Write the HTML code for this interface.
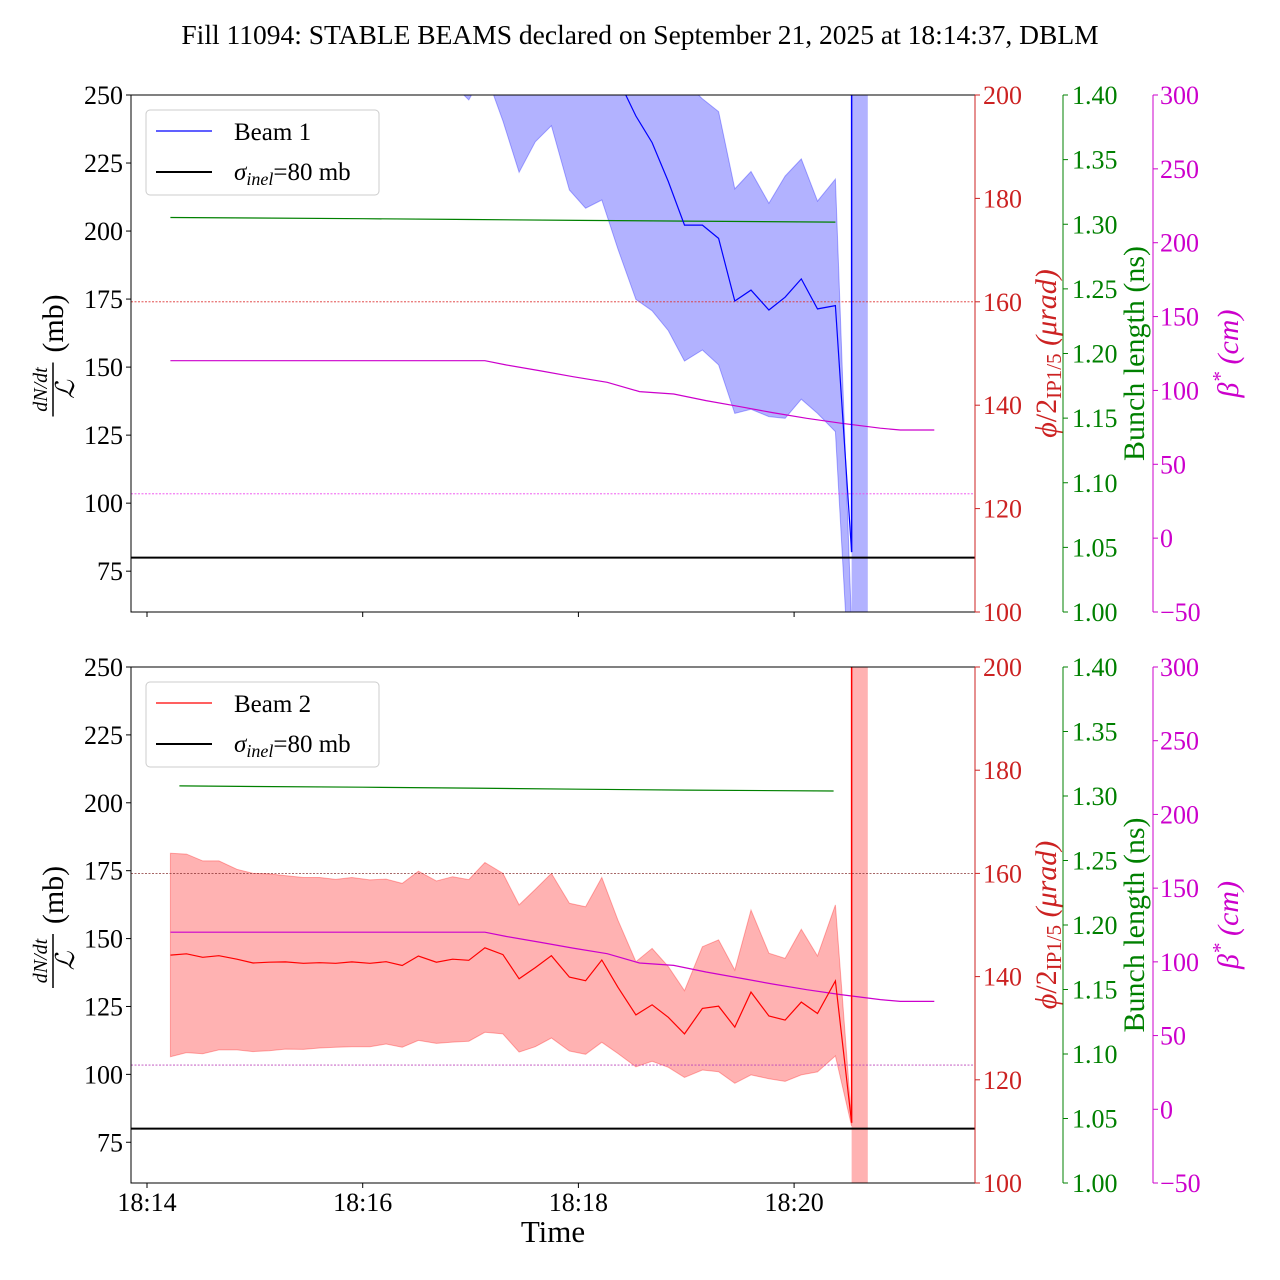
<!DOCTYPE html>
<html><head><meta charset="utf-8"><style>
html,body{margin:0;padding:0;background:#fff}
svg{display:block;font-family:"Liberation Serif",serif}
</style></head><body>
<svg id="chart" width="1280" height="1280" viewBox="0 0 1280 1280" xmlns="http://www.w3.org/2000/svg">
<defs>
<clipPath id="clipTop"><rect x="131" y="95" width="844" height="517"/></clipPath>
<clipPath id="clipBot"><rect x="131" y="667" width="844" height="516"/></clipPath>
</defs>
<text x="640" y="44" font-size="27.5" text-anchor="middle">Fill 11094: STABLE BEAMS declared on September 21, 2025 at 18:14:37, DBLM</text>
<g id="top"></g>
<g id="bot"></g>
<text x="553" y="1242" font-size="31" text-anchor="middle">Time</text>
</svg>
<script>
// time (seconds after 18:14:00) of each sample
const times = [13,22,31,40,50,59,68,77,87,96,105,114,124,133,142,151,161,170,179,188,198,207,216,225,235,244,253,262,272,281,290,299,309,318,327,336,346,355,364,373,383,392];
// Beam 1
const meanB1 = [310,312,309,311,308,307,309,306,305,306,304,303,302,300,298,299,296,292,288,284,280,276,272,268,265,262,258,256,242.3,232.5,218.2,202.2,202.2,197.3,174.3,178.3,171.0,175.7,182.4,171.4,172.6,82];
const upperB1 = [340,338,336,337,335,334,333,332,331,330,328,326,325,323,321,320,318,316,314,311,308,305,302,299,296,292,288,284,278,272,265,255,248.6,243.9,215.5,221.9,210.2,220.2,226.5,211.0,219.1,55];
const lowerB1 = [275,276,274,275,273,272,273,271,270,271,269,268,267,265,263,262,258,254,248.2,258.8,240.5,221.6,232.8,238.7,215.1,208.4,211.4,193.4,174.9,170.7,163.4,152.2,156.3,150.8,133.0,134.5,131.8,131.2,138.2,133.0,126.3,20];
// Beam 2
const meanB2 = [143.9,144.4,143.1,143.7,142.4,141.0,141.3,141.4,140.9,141.1,140.9,141.4,140.9,141.5,140.1,143.6,141.3,142.4,142.0,146.6,144.1,135.2,139.3,143.7,135.8,134.5,142.1,132.1,121.9,125.6,121.0,114.9,124.3,125.1,117.4,130.3,121.5,120.0,126.6,122.4,134.4,82.2];
const upperB2 = [181.4,181.1,178.6,178.6,175.5,174.0,173.8,173.2,172.5,172.5,171.8,172.5,171.6,171.9,170.3,174.8,171.2,172.8,171.7,178.0,174.0,162.4,168.1,174.0,163.0,161.7,172.5,156.8,141.5,146.4,139.7,130.8,147.0,149.5,138.4,160.5,144.6,142.7,153.4,143.6,162.4,83];
const lowerB2 = [106.5,108.0,107.6,109.0,109.0,108.4,108.7,109.3,109.2,109.7,110.0,110.2,110.2,111.2,110.0,112.5,111.4,111.9,112.2,115.5,114.9,108.2,110.2,113.4,108.6,107.4,111.8,107.7,102.8,104.8,102.6,98.9,101.6,101.0,96.7,99.8,98.4,97.4,99.8,100.9,106.8,81];
// dump spike / shaded span (seconds)
const spikeT = 392;
const spanT = [392, 401];
// bunch length (ns)
const blTimesTop = [13,60,120,180,240,300,383];
const blTop = [1.3052,1.3048,1.3043,1.3037,1.3030,1.3024,1.3017];
const blTimesBot = [18,60,120,180,240,300,382];
const blBot = [1.3078,1.3074,1.3068,1.3061,1.3053,1.3046,1.3039];
// beta* (cm)
const betaTimes = [13,188,200,219,237,256,274,293,311,330,348,367,386,408,419,438];
const betaVals = [120.1,120.1,117.2,113.2,109.3,105.5,99.2,97.6,93.1,89.0,85.0,81.1,77.8,74.4,73.2,73.2];
// reference lines
const sigmaInel = 80;
const crossingRef = 160;
const betaRef = 30;
// ticks
const xTickTimes = [0,120,240,360];
const xTickLabels = ["18:14","18:16","18:18","18:20"];
const leftTicks = [75,100,125,150,175,200,225,250];
const redTicks = [100,120,140,160,180,200];
const greenTicks = [1.00,1.05,1.10,1.15,1.20,1.25,1.30,1.35,1.40];
const betaTicks = [-50,0,50,100,150,200,250,300];

const NS = "http://www.w3.org/2000/svg";
function mk(parent, tag, attrs, text){
  const e = document.createElementNS(NS, tag);
  for (const k in attrs) e.setAttribute(k, attrs[k]);
  if (text !== undefined) e.textContent = text;
  parent.appendChild(e);
  return e;
}
const xs = t => 147 + t * 1.7975;
const L = 131, R = 975;
const FS = 26;

function panel(g, y0, y1, clipId, beam, color, fill, mean, upper, lower, blT, blV, refColorRed, refColorMag, showXLabels){
  const H = y1 - y0;
  const yL = v => y1 - (v - 60) / 190 * H;
  const yR = v => y1 - (v - 100) / 100 * H;
  const yG = v => y1 - (v - 1.0) / 0.4 * H;
  const yB = v => y1 - (v + 50) / 350 * H;
  const data = mk(g, "g", {"clip-path": "url(#" + clipId + ")"});
  
  
  let d = "";
  times.forEach((t,i)=>{ d += (i?"L":"M") + xs(t).toFixed(1) + "," + yL(upper[i]).toFixed(1); });
  for (let i = times.length-1; i>=0; i--) d += "L" + xs(times[i]).toFixed(1) + "," + yL(lower[i]).toFixed(1);
  const band = mk(data, "path", {d: d + "Z", fill: fill, "fill-opacity": 0.3, stroke: fill, "stroke-opacity": 0.3, "stroke-width": 1});
  
  
  const span = mk(data, "rect", {x: xs(spanT[0]), y: y0, width: xs(spanT[1]) - xs(spanT[0]), height: H, fill: fill, "fill-opacity": 0.3});
  
  
  const rl = mk(data, "line", {x1: L, x2: R, y1: yR(crossingRef), y2: yR(crossingRef), stroke: refColorRed, "stroke-width": 0.8, "stroke-dasharray": "2,1.5"});
  
  
  const ml = mk(data, "line", {x1: L, x2: R, y1: yB(betaRef), y2: yB(betaRef), stroke: refColorMag, "stroke-width": 0.8, "stroke-dasharray": "2,1.5"});
  
  
  const gl = mk(data, "polyline", {points: blT.map((t,i)=>xs(t).toFixed(1)+","+yG(blV[i]).toFixed(1)).join(" "), fill: "none", stroke: "green", "stroke-width": 1.2});
  
  
  const bl = mk(data, "polyline", {points: betaTimes.map((t,i)=>xs(t).toFixed(1)+","+yB(betaVals[i]).toFixed(1)).join(" "), fill: "none", stroke: "#cc00cc", "stroke-width": 1.2});
  
  
  const ml2 = mk(data, "polyline", {points: times.map((t,i)=>xs(t).toFixed(1)+","+yL(mean[i]).toFixed(1)).join(" "), fill: "none", stroke: color, "stroke-width": 1.2});
  
  
  const sp = mk(data, "line", {x1: xs(spikeT), x2: xs(spikeT), y1: yL(mean[mean.length-1]), y2: y0, stroke: color, "stroke-width": 1.5});
  
  
  const sl = mk(data, "line", {x1: L, x2: R, y1: yL(sigmaInel), y2: yL(sigmaInel), stroke: "#000", "stroke-width": 2});
  
  
  const fr = mk(g, "rect", {x: L, y: y0, width: R-L, height: H, fill: "none", stroke: "#000", "stroke-width": 1});
  
  
  mk(g, "line", {x1: R, x2: R, y1: y0, y2: y1, stroke: "#cc2222", "stroke-width": 1});
  mk(g, "line", {x1: 1063, x2: 1063, y1: y0, y2: y1, stroke: "green", "stroke-width": 1});
  mk(g, "line", {x1: 1153, x2: 1153, y1: y0, y2: y1, stroke: "#cc00cc", "stroke-width": 1});
  leftTicks.forEach(v=>{
    const y = yL(v);
    mk(g, "line", {x1: L-5, x2: L, y1: y, y2: y, stroke: "#000"});
    const t = mk(g, "text", {x: L-8, y: y+9, "font-size": FS, "text-anchor": "end"}, v);
    
    
  });
  redTicks.forEach(v=>{
    const y = yR(v);
    mk(g, "line", {x1: R, x2: R+5, y1: y, y2: y, stroke: "#cc2222"});
    const t = mk(g, "text", {x: R+8, y: y+9, "font-size": FS, fill: "#cc2222"}, v);
    
    
  });
  greenTicks.forEach(v=>{
    const y = yG(v);
    mk(g, "line", {x1: 1063, x2: 1068, y1: y, y2: y, stroke: "green"});
    const t = mk(g, "text", {x: 1072, y: y+9, "font-size": FS, fill: "green"}, v.toFixed(2));
    
    
  });
  betaTicks.forEach(v=>{
    const y = yB(v);
    mk(g, "line", {x1: 1153, x2: 1158, y1: y, y2: y, stroke: "#cc00cc"});
    const t = mk(g, "text", {x: 1160, y: y+9, "font-size": FS, fill: "#cc00cc"}, v < 0 ? "\u2212" + (-v) : v);
    
    
  });
  xTickTimes.forEach((tt,i)=>{
    const x = xs(tt);
    mk(g, "line", {x1: x, x2: x, y1: y1, y2: y1+5, stroke: "#000"});
    if (showXLabels){
      const t = mk(g, "text", {x: x, y: y1+28, "font-size": FS, "text-anchor": "middle"}, xTickLabels[i]);
      
      
    }
  });
  const mid = (y0 + y1) / 2;
  const cy = mid + 36;
  const ll = mk(g, "g", {transform: "translate(53," + cy + ") rotate(-90)"});
  
  
  mk(ll, "text", {x: 0, y: -6, "font-size": 20, "font-style": "italic", "text-anchor": "middle"}, "dN/dt");
  mk(ll, "line", {x1: -27, x2: 27, y1: 0, y2: 0, stroke: "#000", "stroke-width": 1.5});
  mk(ll, "text", {x: 0, y: 21, "font-size": 26, "font-style": "italic", "text-anchor": "middle"}, "\u2112");
  mk(ll, "text", {x: 66, y: 10, "font-size": 30, "text-anchor": "middle"}, "(mb)");
  const rlab = mk(g, "text", {transform: "translate(1056," + mid + ") rotate(-90)", "font-size": 30, fill: "#cc2222", "text-anchor": "middle"});
  
  
  mk(rlab, "tspan", {"font-style": "italic"}, "\u03d5");
  mk(rlab, "tspan", {}, "/2");
  mk(rlab, "tspan", {"font-size": 21, dy: 5}, "IP1/5");
  mk(rlab, "tspan", {dy: -5, "font-style": "italic"}, " (\u03bcrad)");
  const glab = mk(g, "text", {transform: "translate(1144," + mid + ") rotate(-90)", "font-size": 30, fill: "green", "text-anchor": "middle"}, "Bunch length (ns)");
  
  
  const blab = mk(g, "text", {transform: "translate(1238," + mid + ") rotate(-90)", "font-size": 30, fill: "#cc00cc", "text-anchor": "middle", "font-style": "italic"});
  
  
  mk(blab, "tspan", {}, "\u03b2");
  mk(blab, "tspan", {"font-size": 21, dy: -11}, "*");
  mk(blab, "tspan", {dy: 11}, " (cm)");
  const lg = mk(g, "g", {});
  
  
  mk(lg, "rect", {x: 146, y: y0+15, width: 233, height: 85, rx: 4, fill: "#fff", "fill-opacity": 0.8, stroke: "#ccc"});
  const e1 = mk(lg, "g", {});
  
  
  mk(e1, "line", {x1: 156, x2: 212, y1: y0+36, y2: y0+36, stroke: color, "stroke-width": 1.2});
  mk(e1, "text", {x: 234, y: y0+45, "font-size": 25}, beam === "beam-1" ? "Beam 1" : "Beam 2");
  const e2 = mk(lg, "g", {});
  
  
  const ty = y0 + 77;
  mk(e2, "line", {x1: 156, x2: 212, y1: ty, y2: ty, stroke: "#000", "stroke-width": 2});
  const st = mk(e2, "text", {x: 234, y: ty+8, "font-size": 25});
  mk(st, "tspan", {"font-style": "italic"}, "\u03c3");
  mk(st, "tspan", {"font-style": "italic", "font-size": 18, dy: 5}, "inel");
  mk(st, "tspan", {dy: -5}, "=80 mb");
}
panel(document.getElementById("top"), 95, 612, "clipTop", "beam-1", "#0000ff", "#0000ff", meanB1, upperB1, lowerB1, blTimesTop, blTop, "#dd3333", "#ee44ee", false);
panel(document.getElementById("bot"), 667, 1183, "clipBot", "beam-2", "#ff0000", "#ff0000", meanB2, upperB2, lowerB2, blTimesBot, blBot, "#883333", "#bb44bb", true);
</script>
</body></html>
